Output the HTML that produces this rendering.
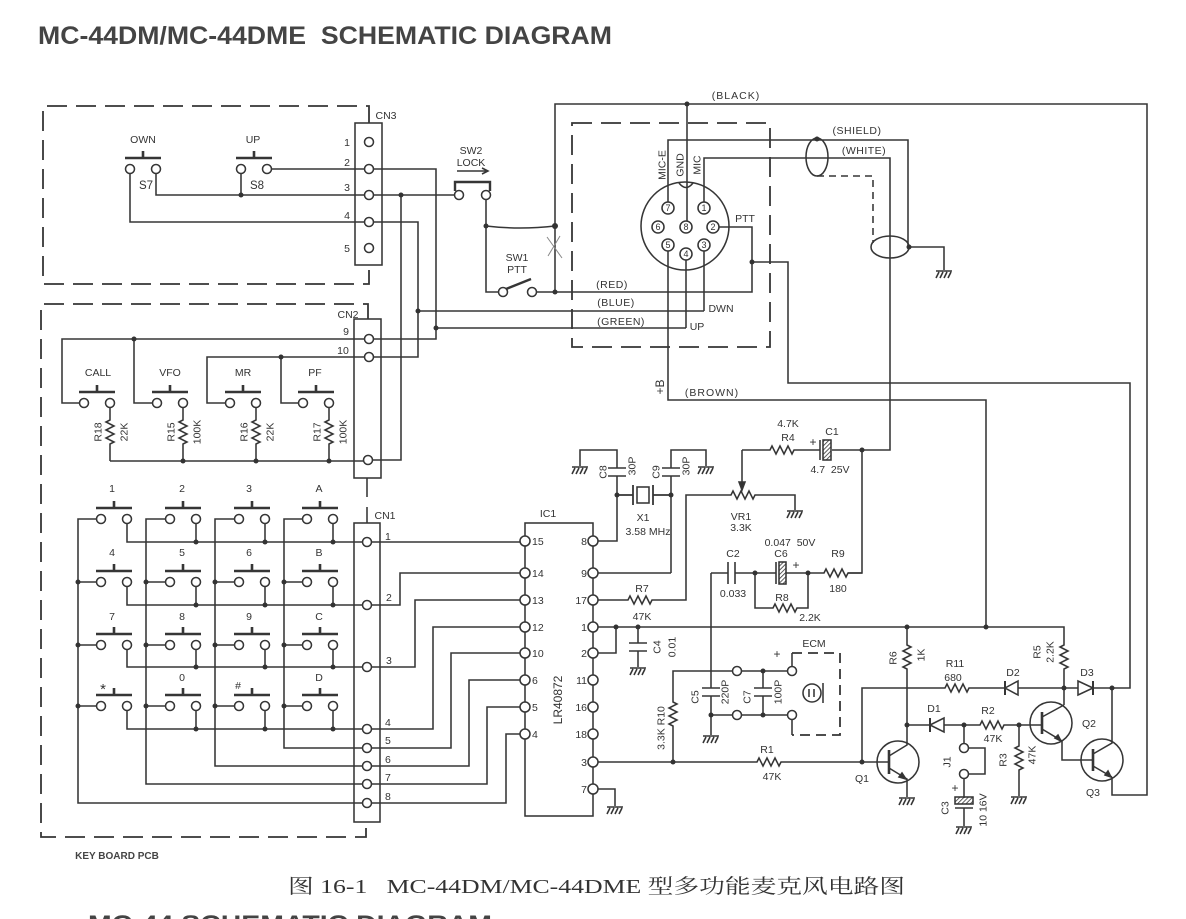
<!DOCTYPE html>
<html><head><meta charset="utf-8"><style>
html,body{margin:0;padding:0;background:#fff;}
svg{display:block;font-family:"Liberation Sans",sans-serif;font-size:10.5px;fill:#333;}
</style></head><body>
<svg width="1186" height="919" viewBox="0 0 1186 919" xmlns="http://www.w3.org/2000/svg">
<defs>
 <g id="pb"><path d="M-18 0H18M0 -7V0" stroke-width="2.6"/><circle cx="-13" cy="11" r="4.5" fill="#fff"/><circle cx="13" cy="11" r="4.5" fill="#fff"/></g>
 <g id="gnd"><path d="M-8 0H8M-5 1l-3 6M-1 1l-3 6M3 1l-3 6M7 1l-3 6" stroke-width="1.6"/></g>
 <pattern id="hat" width="3" height="3" patternUnits="userSpaceOnUse" patternTransform="rotate(45)"><path d="M0 0V3" stroke="#333" stroke-width="1.6"/></pattern>
</defs>
<rect width="1186" height="919" fill="#fff"/>

<!-- titles -->
<text x="38" y="44" style="font-size:25px;font-weight:bold" fill="#444" textLength="574" lengthAdjust="spacingAndGlyphs" xml:space="preserve">MC-44DM/MC-44DME  SCHEMATIC DIAGRAM</text>
<text x="288" y="893" style="font-family:'Liberation Serif','Noto Serif CJK SC',serif;font-size:20px" fill="#333" textLength="617" lengthAdjust="spacingAndGlyphs" xml:space="preserve">图 16-1   MC-44DM/MC-44DME 型多功能麦克风电路图</text>
<text x="88" y="932" style="font-size:24px;font-weight:bold" fill="#444" textLength="404" lengthAdjust="spacingAndGlyphs">MC-44 SCHEMATIC DIAGRAM</text>

<g stroke="#363636" stroke-width="1.55" fill="none">
<!-- dashed boxes -->
<path d="M369 123V106H43V284H369V265" stroke-dasharray="20 9" stroke-width="1.8"/>
<path d="M368 319V304H41V837H366V822" stroke-dasharray="20 9" stroke-width="1.8"/>
<rect x="572" y="123" width="198" height="224" stroke-dasharray="20 9" stroke-width="1.8"/>

<!-- CN3 -->
<rect x="355" y="123" width="27" height="142"/>
<use href="#pb" x="143" y="158"/>
<use href="#pb" x="254" y="158"/>
<path d="M271.5 169H364.5M156 173.5V195H364.5M241 173.5V195M130 173.5V222H364.5"/>
<path d="M373.5 169H436V339H373.5M373.5 195H454.5M401 195V460H372.5M373.5 222H418V357H373.5"/>
<path d="M418 311H704M436 328H686"/>

<!-- SW2 / SW1 -->
<path d="M455 191V182H490V191" stroke-width="2.4"/>
<path d="M457 171H487M482 168L488 171L482 174"/>
<circle cx="459" cy="195" r="4.5" fill="#fff"/>
<circle cx="486" cy="195" r="4.5" fill="#fff"/>
<path d="M486 199.5V292H498.5M486 226Q520 230 555 226"/>
<circle cx="503" cy="292" r="4.5" fill="#fff"/>
<circle cx="532" cy="292" r="4.5" fill="#fff"/>
<path d="M506 289L531 279" stroke-width="2.4"/>
<path d="M536.5 292H752V227H719M555 292V104H1147V795H1112V777"/>
<path d="M547 237L562 258M560 236L548 256" stroke="#888" stroke-width="1"/>
<path d="M752 262H788V383H1130V688H1093"/>

<!-- mic connector -->
<circle cx="685" cy="226" r="44"/>
<path d="M679 183Q686 192 693 183"/>
<path d="M687 104V221M668 202V140H908V247M909 247H944V270M704 202V158H890V450H832"/>
<ellipse cx="817" cy="157" rx="11" ry="19"/>
<ellipse cx="890" cy="247" rx="19" ry="11"/>
<path d="M817 176H873V243" stroke-dasharray="7 5"/>
<path d="M668 251V400H986V627M686 260V328M704 251V311"/>
<g fill="#fff">
<circle cx="668" cy="208" r="6"/><circle cx="704" cy="208" r="6"/>
<circle cx="658" cy="227" r="6"/><circle cx="686" cy="227" r="6"/><circle cx="713" cy="227" r="6"/>
<circle cx="668" cy="245" r="6"/><circle cx="686" cy="254" r="6"/><circle cx="704" cy="245" r="6"/>
</g>
<use href="#gnd" x="944" y="271"/>

<!-- CN2 -->
<rect x="354" y="319" width="27" height="159"/>
<rect x="354" y="523" width="26" height="299"/>
<path d="M367 478V497M367 507V523"/>
<path d="M364.5 339H62V403H79.5M134 339V403H152.5M364.5 357H207V403H225.5M281 357V403H298.5"/>
<use href="#pb" x="97" y="392"/>
<use href="#pb" x="170" y="392"/>
<use href="#pb" x="243" y="392"/>
<use href="#pb" x="316" y="392"/>
<path d="M110 407.5V420l-4 2 l8 4 l-8 4 l8 4 l-8 4 l8 4 l-4 2V461"/>
<path d="M183 407.5V420l-4 2 l8 4 l-8 4 l8 4 l-8 4 l8 4 l-4 2V461"/>
<path d="M256 407.5V420l-4 2 l8 4 l-8 4 l8 4 l-8 4 l8 4 l-4 2V461"/>
<path d="M329 407.5V420l-4 2 l8 4 l-8 4 l8 4 l-8 4 l8 4 l-4 2V461"/>
<path d="M110 461H363.5"/>
<g fill="#fff">
<circle cx="369" cy="142" r="4.5"/><circle cx="369" cy="169" r="4.5"/><circle cx="369" cy="195" r="4.5"/><circle cx="369" cy="222" r="4.5"/><circle cx="369" cy="248" r="4.5"/>
<circle cx="369" cy="339" r="4.5"/><circle cx="369" cy="357" r="4.5"/><circle cx="368" cy="460" r="4.5"/>
<circle cx="367" cy="542" r="4.5"/><circle cx="367" cy="605" r="4.5"/><circle cx="367" cy="667" r="4.5"/><circle cx="367" cy="729" r="4.5"/><circle cx="367" cy="748" r="4.5"/><circle cx="367" cy="766" r="4.5"/><circle cx="367" cy="784" r="4.5"/><circle cx="367" cy="803" r="4.5"/>
</g>

<!-- keyboard -->
<use href="#pb" x="114" y="508"/><use href="#pb" x="183" y="508"/><use href="#pb" x="252" y="508"/><use href="#pb" x="320" y="508"/>
<use href="#pb" x="114" y="571"/><use href="#pb" x="183" y="571"/><use href="#pb" x="252" y="571"/><use href="#pb" x="320" y="571"/>
<use href="#pb" x="114" y="634"/><use href="#pb" x="183" y="634"/><use href="#pb" x="252" y="634"/><use href="#pb" x="320" y="634"/>
<use href="#pb" x="114" y="695"/><use href="#pb" x="183" y="695"/><use href="#pb" x="252" y="695"/><use href="#pb" x="320" y="695"/>
<path d="M96.5 519H78V803H362.5M165.5 519H146V784H362.5M234.5 519H215V766H362.5M302.5 519H284V748H362.5"/>
<path d="M78 582H96.5M78 645H96.5M78 706H96.5M146 582H165.5M146 645H165.5M146 706H165.5M215 582H234.5M215 645H234.5M215 706H234.5M284 582H302.5M284 645H302.5M284 706H302.5"/>
<path d="M127 523.5V542H362.5M196 523.5V542M265 523.5V542M333 523.5V542"/>
<path d="M127 586.5V605H362.5M196 586.5V605M265 586.5V605M333 586.5V605"/>
<path d="M127 649.5V667H362.5M196 649.5V667M265 649.5V667M333 649.5V667"/>
<path d="M127 710.5V729H362.5M196 710.5V729M265 710.5V729M333 710.5V729"/>

<!-- CN1 to IC -->
<path d="M371.5 542H520M371.5 605H400V573H520M371.5 667H415V600H520M371.5 729H433V627H520M371.5 748H451V653H520M371.5 766H469V680H520M371.5 784H487V707H520M371.5 803H506V734H520"/>
<rect x="525" y="523" width="68" height="293"/>

<!-- crystal area -->
<path d="M598 541H617V476M617 468V450H580V466M608 468H626M608 476H626"/>
<use href="#gnd" x="580" y="467"/>
<path d="M617 495H633M633 485V505M653 485V505M653 495H671" stroke-width="1.8"/>
<rect x="637" y="487" width="12" height="16"/>
<path d="M671 573V476M662 468H680M662 476H680M671 468V450H706V466M671 573H598"/>
<use href="#gnd" x="706" y="467"/>
<path d="M598 600H628l2 -4 l4 8 l4 -8 l4 8 l4 -8 l4 8 l2 -4H686V495H731l2 -4 l4 8 l4 -8 l4 8 l4 -8 l4 8 l2 -4H795V510"/>
<use href="#gnd" x="795" y="511"/>
<path d="M742 450V484"/>
<path d="M739 482L742 490L745 482Z" fill="#333"/>
<path d="M742 450H770l2 -4 l4 8 l4 -8 l4 8 l4 -8 l4 8 l2 -4H820M820 440V460"/>
<rect x="823" y="440" width="8" height="20" fill="url(#hat)"/>
<path d="M862 450V573H848"/>

<!-- C2 C6 R9 R8 -->
<path d="M711 573V688M702 688H720M702 696H720M711 696V735"/>
<use href="#gnd" x="711" y="736"/>
<path d="M711 573H728M728 562V584M735 562V584M735 573H776M776 562V584M786 573H824l2 -4 l4 8 l4 -8 l4 8 l4 -8 l4 8 l2 -4H862" stroke-width="1.6"/>
<rect x="779" y="562" width="7" height="22" fill="url(#hat)"/>
<path d="M755 573V608H773l2 -4 l4 8 l4 -8 l4 8 l4 -8 l4 8 l2 -4H808V573"/>

<!-- pin1 bus / C4 -->
<path d="M598 627H1064V645l-4 2 l8 4 l-8 4 l8 4 l-8 4 l8 4 l-4 2V705"/>
<path d="M616 627V653H598M638 627V643M629 643H647M629 651H647M638 651V667"/>
<use href="#gnd" x="638" y="668"/>

<!-- R10 C5 C7 ECM -->
<path d="M673 762V726l-4 -2 l8 -4 l-8 -4 l8 -4 l-8 -4 l8 -4 l-4 -2V671H732.5M741.5 671H787.5M763 671V688M754 688H772M754 696H772M763 696V715M711 715H732.5M741.5 715H787.5"/>
<circle cx="737" cy="671" r="4.5" fill="#fff"/><circle cx="737" cy="715" r="4.5" fill="#fff"/>
<circle cx="792" cy="671" r="4.5" fill="#fff"/><circle cx="792" cy="715" r="4.5" fill="#fff"/>
<path d="M792 666.5V653M792 735V719.5"/>
<path d="M792 653H840V735H792" stroke-dasharray="10 6" stroke-width="1.8"/>
<circle cx="812" cy="693" r="9"/>
<path d="M823 683V703M809 689V697M814 689V697"/>

<!-- pin3 / pin7 -->
<path d="M598 762H757l2 -4 l4 8 l4 -8 l4 8 l4 -8 l4 8 l2 -4H889"/>
<path d="M598 789H615V806"/>
<use href="#gnd" x="615" y="807"/>
<path d="M862 762V688H945l2 -4 l4 8 l4 -8 l4 8 l4 -8 l4 8 l2 -4H1005M1018 688H1078"/>
<path d="M1005 681V695" stroke-width="2"/>
<path d="M1005 688L1018 681V695Z"/>
<path d="M1093 681V695" stroke-width="2"/>
<path d="M1093 688L1078 681V695Z"/>

<!-- Q1 -->
<circle cx="898" cy="762" r="21"/>
<path d="M889 750V774" stroke-width="2.6"/>
<path d="M889 756L907 745V669l-4 -2 l8 -4 l-8 -4 l8 -4 l-8 -4 l8 -4 l-4 -2V627M889 768L907 779V797"/>
<path d="M899 777L906 779L902 773Z" fill="#333"/>
<use href="#gnd" x="907" y="798"/>
<path d="M907 725H930"/>
<path d="M930 718V732" stroke-width="2"/>
<path d="M930 725L944 718V732Z"/>
<path d="M944 725H980l2 -4 l4 8 l4 -8 l4 8 l4 -8 l4 8 l2 -4H1042"/>
<path d="M964 725V743.5M968.5 748H985V774H968.5M964 778.5V798M955 808H973M964 808V826"/>
<circle cx="964" cy="748" r="4.5" fill="#fff"/><circle cx="964" cy="774" r="4.5" fill="#fff"/>
<rect x="955" y="797" width="18" height="7" fill="url(#hat)"/>
<use href="#gnd" x="964" y="827"/>
<path d="M1019 725V746l-4 2 l8 4 l-8 4 l8 4 l-8 4 l8 4 l-4 2V796"/>
<use href="#gnd" x="1019" y="797"/>

<!-- Q2 Q3 -->
<circle cx="1051" cy="723" r="21"/>
<path d="M1042 712V734" stroke-width="2.6"/>
<path d="M1042 717L1064 705M1042 729L1062 741V760H1093"/>
<path d="M1055 738L1061 741L1058 735Z" fill="#333"/>
<circle cx="1102" cy="760" r="21"/>
<path d="M1093 749V771" stroke-width="2.6"/>
<path d="M1093 754L1112 743V688M1093 766L1112 777"/>
<path d="M1105 775L1111 777L1108 771Z" fill="#333"/>

<!-- IC pins -->
<g fill="#fff">
<circle cx="525" cy="541" r="5"/><circle cx="525" cy="573" r="5"/><circle cx="525" cy="600" r="5"/><circle cx="525" cy="627" r="5"/><circle cx="525" cy="653" r="5"/><circle cx="525" cy="680" r="5"/><circle cx="525" cy="707" r="5"/><circle cx="525" cy="734" r="5"/>
<circle cx="593" cy="541" r="5"/><circle cx="593" cy="573" r="5"/><circle cx="593" cy="600" r="5"/><circle cx="593" cy="627" r="5"/><circle cx="593" cy="653" r="5"/><circle cx="593" cy="680" r="5"/><circle cx="593" cy="707" r="5"/><circle cx="593" cy="734" r="5"/><circle cx="593" cy="762" r="5"/><circle cx="593" cy="789" r="5"/>
</g>
</g>

<!-- junction dots -->
<g fill="#333">
<circle cx="241" cy="195" r="2.5"/><circle cx="401" cy="195" r="2.5"/><circle cx="418" cy="311" r="2.5"/><circle cx="436" cy="328" r="2.5"/>
<circle cx="486" cy="226" r="2.5"/><circle cx="555" cy="226" r="3"/><circle cx="555" cy="292" r="2.5"/><circle cx="687" cy="104" r="2.5"/>
<circle cx="752" cy="262" r="2.5"/><circle cx="817" cy="139" r="2.5"/><circle cx="909" cy="247" r="2.5"/>
<circle cx="134" cy="339" r="2.5"/><circle cx="281" cy="357" r="2.5"/><circle cx="183" cy="461" r="2.5"/><circle cx="256" cy="461" r="2.5"/><circle cx="329" cy="461" r="2.5"/>
<circle cx="78" cy="582" r="2.5"/><circle cx="78" cy="645" r="2.5"/><circle cx="78" cy="706" r="2.5"/>
<circle cx="146" cy="582" r="2.5"/><circle cx="146" cy="645" r="2.5"/><circle cx="146" cy="706" r="2.5"/>
<circle cx="215" cy="582" r="2.5"/><circle cx="215" cy="645" r="2.5"/><circle cx="215" cy="706" r="2.5"/>
<circle cx="284" cy="582" r="2.5"/><circle cx="284" cy="645" r="2.5"/><circle cx="284" cy="706" r="2.5"/>
<circle cx="196" cy="542" r="2.5"/><circle cx="265" cy="542" r="2.5"/><circle cx="333" cy="542" r="2.5"/>
<circle cx="196" cy="605" r="2.5"/><circle cx="265" cy="605" r="2.5"/><circle cx="333" cy="605" r="2.5"/>
<circle cx="196" cy="667" r="2.5"/><circle cx="265" cy="667" r="2.5"/><circle cx="333" cy="667" r="2.5"/>
<circle cx="196" cy="729" r="2.5"/><circle cx="265" cy="729" r="2.5"/><circle cx="333" cy="729" r="2.5"/>
<circle cx="617" cy="495" r="2.5"/><circle cx="671" cy="495" r="2.5"/><circle cx="616" cy="627" r="2.5"/><circle cx="638" cy="627" r="2.5"/>
<circle cx="907" cy="627" r="2.5"/><circle cx="986" cy="627" r="2.5"/><circle cx="711" cy="715" r="2.5"/><circle cx="763" cy="671" r="2.5"/><circle cx="763" cy="715" r="2.5"/>
<circle cx="755" cy="573" r="2.5"/><circle cx="808" cy="573" r="2.5"/><circle cx="862" cy="450" r="2.5"/><circle cx="673" cy="762" r="2.5"/><circle cx="862" cy="762" r="2.5"/>
<circle cx="907" cy="725" r="2.5"/><circle cx="964" cy="725" r="2.5"/><circle cx="1019" cy="725" r="2.5"/><circle cx="1064" cy="688" r="2.5"/><circle cx="1112" cy="688" r="2.5"/>
</g>

<!-- labels -->
<g text-anchor="middle">
<text x="386" y="119">CN3</text>
<text x="347" y="146">1</text><text x="347" y="166">2</text><text x="347" y="191">3</text><text x="347" y="219">4</text><text x="347" y="252">5</text>
<text x="143" y="143">OWN</text><text x="253" y="143">UP</text>
<text x="146" y="189" style="font-size:11.5px">S7</text><text x="257" y="189" style="font-size:11.5px">S8</text>
<text x="471" y="154">SW2</text><text x="471" y="166">LOCK</text>
<text x="517" y="261">SW1</text><text x="517" y="273">PTT</text>
<text x="736" y="99" letter-spacing="1">(BLACK)</text>
<text x="857" y="134" letter-spacing="0.5">(SHIELD)</text>
<text x="864" y="154" letter-spacing="0.5">(WHITE)</text>
<text x="612" y="288" letter-spacing="0.5">(RED)</text>
<text x="616" y="306" letter-spacing="0.5">(BLUE)</text>
<text x="621" y="325" letter-spacing="0.5">(GREEN)</text>
<text x="721" y="312">DWN</text><text x="697" y="330">UP</text>
<text x="745" y="222">PTT</text>
<text x="712" y="396" letter-spacing="1">(BROWN)</text>
<g style="font-size:9px">
<text x="668" y="211">7</text><text x="704" y="211">1</text><text x="658" y="230">6</text><text x="686" y="230">8</text><text x="713" y="230">2</text><text x="668" y="248">5</text><text x="686" y="257">4</text><text x="704" y="248">3</text>
</g>
<text transform="translate(662,165) rotate(-90)" dy="3.5">MIC-E</text>
<text transform="translate(680,165) rotate(-90)" dy="3.5">GND</text>
<text transform="translate(697,165) rotate(-90)" dy="3.5">MIC</text>
<text transform="translate(660,387) rotate(-90)" dy="4" style="font-size:12px">+B</text>

<text x="348" y="318">CN2</text>
<text x="346" y="335">9</text><text x="343" y="354">10</text>
<text x="98" y="376">CALL</text><text x="170" y="376">VFO</text><text x="243" y="376">MR</text><text x="315" y="376">PF</text>
<text transform="translate(98,432) rotate(-90)" dy="3.5">R18</text><text transform="translate(124,432) rotate(-90)" dy="3.5">22K</text>
<text transform="translate(171,432) rotate(-90)" dy="3.5">R15</text><text transform="translate(197,432) rotate(-90)" dy="3.5">100K</text>
<text transform="translate(244,432) rotate(-90)" dy="3.5">R16</text><text transform="translate(270,432) rotate(-90)" dy="3.5">22K</text>
<text transform="translate(317,432) rotate(-90)" dy="3.5">R17</text><text transform="translate(343,432) rotate(-90)" dy="3.5">100K</text>

<text x="385" y="519">CN1</text>
<g text-anchor="start">
<text x="385" y="540">1</text><text x="386" y="601">2</text><text x="386" y="664">3</text><text x="385" y="726">4</text><text x="385" y="744">5</text><text x="385" y="763">6</text><text x="385" y="781">7</text><text x="385" y="800">8</text>
</g>
<text x="112" y="492">1</text><text x="182" y="492">2</text><text x="249" y="492">3</text><text x="319" y="492">A</text>
<text x="112" y="556">4</text><text x="182" y="556">5</text><text x="249" y="556">6</text><text x="319" y="556">B</text>
<text x="112" y="620">7</text><text x="182" y="620">8</text><text x="249" y="620">9</text><text x="319" y="620">C</text>
<text x="103" y="694" style="font-size:15px">*</text><text x="182" y="681">0</text><text x="238" y="689">#</text><text x="319" y="681">D</text>
<text x="117" y="859" style="font-size:10px;font-weight:bold" fill="#444">KEY BOARD PCB</text>

<text x="548" y="517">IC1</text>
<text transform="translate(558,700) rotate(-90)" dy="4" style="font-size:12px">LR40872</text>
</g>
<g text-anchor="start">
<text x="532" y="545">15</text><text x="532" y="577">14</text><text x="532" y="604">13</text><text x="532" y="631">12</text><text x="532" y="657">10</text><text x="532" y="684">6</text><text x="532" y="711">5</text><text x="532" y="738">4</text>
</g>
<g text-anchor="end">
<text x="587" y="545">8</text><text x="587" y="577">9</text><text x="587" y="604">17</text><text x="587" y="631">1</text><text x="587" y="657">2</text><text x="587" y="684">11</text><text x="587" y="711">16</text><text x="587" y="738">18</text><text x="587" y="766">3</text><text x="587" y="793">7</text>
</g>
<g text-anchor="middle">
<text transform="translate(603,472) rotate(-90)" dy="3.5">C8</text><text transform="translate(632,466) rotate(-90)" dy="3.5">30P</text>
<text transform="translate(656,472) rotate(-90)" dy="3.5">C9</text><text transform="translate(686,466) rotate(-90)" dy="3.5">30P</text>
<text x="643" y="521">X1</text><text x="648" y="535">3.58 MHz</text>
<text x="642" y="592">R7</text><text x="642" y="620">47K</text>
<text x="741" y="520">VR1</text><text x="741" y="531">3.3K</text>
<text x="788" y="427">4.7K</text><text x="788" y="441">R4</text>
<text x="832" y="435">C1</text><text x="813" y="446" style="font-size:12px">+</text>
<text x="830" y="473" xml:space="preserve">4.7  25V</text>
<text x="790" y="546" xml:space="preserve">0.047  50V</text>
<text x="733" y="557">C2</text><text x="781" y="557">C6</text><text x="796" y="569" style="font-size:12px">+</text><text x="838" y="557">R9</text>
<text x="733" y="597">0.033</text><text x="838" y="592">180</text>
<text x="782" y="601">R8</text><text x="810" y="621">2.2K</text>
<text transform="translate(657,647) rotate(-90)" dy="3.5">C4</text><text transform="translate(672,647) rotate(-90)" dy="3.5">0.01</text>
<text transform="translate(661,728) rotate(-90)" dy="3.5">3.3K R10</text>
<text transform="translate(695,697) rotate(-90)" dy="3.5">C5</text><text transform="translate(725,692) rotate(-90)" dy="3.5">220P</text>
<text transform="translate(747,697) rotate(-90)" dy="3.5">C7</text><text transform="translate(778,692) rotate(-90)" dy="3.5">100P</text>
<text x="814" y="647">ECM</text><text x="777" y="658" style="font-size:12px">+</text>
<text x="767" y="753">R1</text><text x="772" y="780">47K</text>
<text x="862" y="782">Q1</text>
<text transform="translate(893,658) rotate(-90)" dy="3.5">R6</text><text transform="translate(921,655) rotate(-90)" dy="3.5">1K</text>
<text x="955" y="667">R11</text><text x="953" y="681">680</text>
<text x="1013" y="676">D2</text><text x="1087" y="676">D3</text>
<text transform="translate(1037,652) rotate(-90)" dy="3.5">R5</text><text transform="translate(1050,652) rotate(-90)" dy="3.5">2.2K</text>
<text x="934" y="712">D1</text><text x="988" y="714">R2</text><text x="993" y="742">47K</text>
<text x="1089" y="727">Q2</text><text x="1093" y="796">Q3</text>
<text transform="translate(1003,760) rotate(-90)" dy="3.5">R3</text><text transform="translate(1032,755) rotate(-90)" dy="3.5">47K</text>
<text transform="translate(947,762) rotate(-90)" dy="3.5">J1</text>
<text transform="translate(945,808) rotate(-90)" dy="3.5">C3</text><text x="955" y="792" style="font-size:12px">+</text>
<text transform="translate(983,810) rotate(-90)" dy="3.5">10 16V</text>
</g>
</svg>
</body></html>
